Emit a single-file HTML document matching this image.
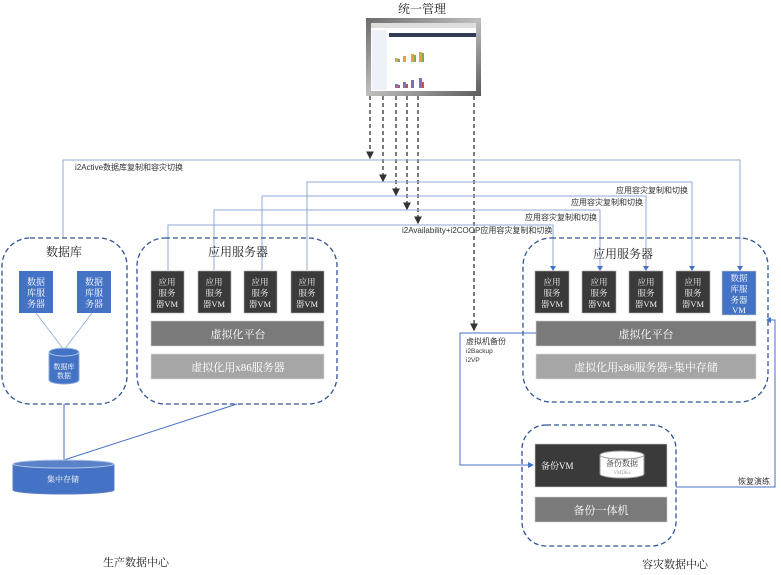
<!DOCTYPE html>
<html><head><meta charset="utf-8"><style>
html,body{margin:0;padding:0;background:#fff;}
svg{display:block;font-family:"Liberation Serif","Noto Serif CJK SC","Noto Sans CJK SC",serif;}
.s{font-family:"Liberation Sans","Noto Sans CJK SC",sans-serif;}
</style></head><body>
<svg width="781" height="575" viewBox="0 0 781 575" xmlns="http://www.w3.org/2000/svg">
<defs>
<marker id="a" markerWidth="6" markerHeight="6" refX="5" refY="3" orient="auto"><path d="M0,0 L6,3 L0,6 z" fill="#333"/></marker>
<marker id="b" markerWidth="6" markerHeight="6" refX="5" refY="3" orient="auto"><path d="M0,0 L6,3 L0,6 z" fill="#4472c4"/></marker>
<linearGradient id="fr" x1="0" y1="0" x2="1" y2="1"><stop offset="0" stop-color="#6b6b6b"/><stop offset="0.5" stop-color="#bdbdbd"/><stop offset="1" stop-color="#5a5a5a"/></linearGradient>
</defs>
<!-- title -->
<text x="422" y="13" font-size="12" text-anchor="middle" fill="#222">统一管理</text>
<!-- monitor -->
<rect x="366" y="18" width="115" height="78" fill="url(#fr)"/>
<rect x="371" y="23" width="105" height="68" fill="#fff"/>
<rect x="371" y="23" width="105" height="5" fill="#ddd"/>
<rect x="389" y="33" width="87" height="4" fill="#333c55"/>
<rect x="372" y="30" width="15" height="60" fill="#eef2f8"/>
<g fill="#e8a040"><rect x="395" y="58" width="3" height="4"/><rect x="403" y="56" width="3" height="6"/><rect x="411" y="54" width="3" height="8"/><rect x="419" y="52" width="3" height="10"/></g>
<g fill="#7c72b8"><rect x="395" y="84" width="3" height="4"/><rect x="403" y="82" width="3" height="6"/><rect x="411" y="80" width="3" height="8"/><rect x="419" y="78" width="3" height="10"/></g>
<g fill="#70b050"><rect x="398" y="59" width="2" height="3"/><rect x="414" y="55" width="2" height="7"/><rect x="422" y="53" width="2" height="9"/></g>
<g fill="#d05050"><rect x="398" y="85" width="2" height="3"/><rect x="406" y="84" width="2" height="4"/><rect x="422" y="82" width="2" height="6"/></g>
<!-- dashed control lines -->
<g stroke="#333" stroke-width="1.3" stroke-dasharray="4,3" fill="none">
<line x1="370" y1="96" x2="370" y2="158" marker-end="url(#a)"/>
<line x1="383" y1="96" x2="383" y2="181" marker-end="url(#a)"/>
<line x1="396" y1="96" x2="396" y2="195" marker-end="url(#a)"/>
<line x1="407" y1="96" x2="407" y2="209" marker-end="url(#a)"/>
<line x1="418" y1="96" x2="418" y2="223" marker-end="url(#a)"/>
<line x1="474" y1="96" x2="474" y2="330" marker-end="url(#a)"/>
</g>
<!-- replication lines -->
<g stroke="#8fa8d6" stroke-width="1" fill="none">
<polyline points="63,238 63,160 740,160 740,269"/>
<polyline points="307,270 307,182 692,182 692,269"/>
<polyline points="262,270 262,196 646,196 646,269"/>
<polyline points="214,270 214,210 600,210 600,269"/>
<polyline points="168,270 168,225 553,225 553,269"/>
</g>
<g fill="#4472c4"><path d="M737,266 L743,266 L740,271z"/><path d="M689,266 L695,266 L692,271z"/><path d="M643,266 L649,266 L646,271z"/><path d="M597,266 L603,266 L600,271z"/><path d="M550,266 L556,266 L553,271z"/></g>
<g font-size="8" fill="#333" class="s">
<text x="75" y="170">i2Active数据库复制和容灾切换</text>
<text x="688" y="193" text-anchor="end">应用容灾复制和切换</text>
<text x="643" y="205" text-anchor="end">应用容灾复制和切换</text>
<text x="597" y="220" text-anchor="end">应用容灾复制和切换</text>
<text x="402" y="233">i2Availability+i2COOP应用容灾复制和切换</text>
</g>
<!-- dashed boxes -->
<g stroke="#2f5597" stroke-width="1.3" stroke-dasharray="5,3" fill="none">
<rect x="2" y="238" width="125" height="166" rx="28"/>
<rect x="137" y="238" width="200" height="166" rx="28"/>
<rect x="523" y="238" width="245" height="164" rx="28"/>
<rect x="522" y="425" width="154" height="121" rx="24"/>
</g>
<g font-size="12" fill="#222">
<text x="64" y="256" text-anchor="middle">数据库</text>
<text x="238" y="256" text-anchor="middle">应用服务器</text>
<text x="623" y="258" text-anchor="middle">应用服务器</text>
</g>
<!-- DB servers -->
<g stroke="#8fa8d6" stroke-width="0.8"><line x1="36" y1="313" x2="64" y2="350"/><line x1="92" y1="313" x2="64" y2="350"/></g>
<rect x="19" y="271" width="34" height="42" fill="#4472c4"/>
<rect x="77" y="271" width="34" height="42" fill="#4472c4"/>
<g font-size="9" fill="#fff" text-anchor="middle">
<text x="36" y="285">数据</text><text x="36" y="296">库服</text><text x="36" y="307">务器</text>
<text x="94" y="285">数据</text><text x="94" y="296">库服</text><text x="94" y="307">务器</text>
</g>
<path d="M49,352 L49,380 A15,4 0 0 0 79,380 L79,352" fill="#4472c4" stroke="#8fa8d6"/>
<ellipse cx="64" cy="352" rx="15" ry="4" fill="#4472c4" stroke="#b4c7e7"/>
<text x="64" y="369" font-size="7" fill="#fff" text-anchor="middle">数据库</text>
<text x="64" y="378" font-size="7" fill="#fff" text-anchor="middle">数据</text>
<!-- left app VMs -->
<g fill="#3a3a3a" stroke="#aaa" stroke-width="0.6">
<rect x="151" y="271" width="33" height="42"/><rect x="198" y="271" width="33" height="42"/>
<rect x="244" y="271" width="33" height="42"/><rect x="291" y="271" width="33" height="42"/>
</g>
<g font-size="8.5" fill="#eee" text-anchor="middle">
<text x="167" y="285">应用</text><text x="167" y="296">服务</text><text x="167" y="307">器VM</text>
<text x="214" y="285">应用</text><text x="214" y="296">服务</text><text x="214" y="307">器VM</text>
<text x="260" y="285">应用</text><text x="260" y="296">服务</text><text x="260" y="307">器VM</text>
<text x="307" y="285">应用</text><text x="307" y="296">服务</text><text x="307" y="307">器VM</text>
</g>
<rect x="151" y="321" width="173" height="25" fill="#7a7a7a" stroke="#ccc" stroke-width="0.6"/>
<text x="238" y="338" font-size="11" fill="#fff" text-anchor="middle">虚拟化平台</text>
<rect x="151" y="354" width="173" height="25" fill="#a6a6a6" stroke="#ddd" stroke-width="0.6"/>
<text x="238" y="371" font-size="11" fill="#fff" text-anchor="middle">虚拟化用x86服务器</text>
<!-- right VMs -->
<g fill="#3a3a3a" stroke="#aaa" stroke-width="0.6">
<rect x="535" y="271" width="34" height="42"/><rect x="582" y="271" width="34" height="42"/>
<rect x="629" y="271" width="34" height="42"/><rect x="676" y="271" width="34" height="42"/>
</g>
<rect x="722" y="271" width="34" height="44" fill="#4472c4" stroke="#ccc" stroke-width="0.6"/>
<g font-size="8.5" fill="#eee" text-anchor="middle">
<text x="552" y="285">应用</text><text x="552" y="296">服务</text><text x="552" y="307">器VM</text>
<text x="599" y="285">应用</text><text x="599" y="296">服务</text><text x="599" y="307">器VM</text>
<text x="646" y="285">应用</text><text x="646" y="296">服务</text><text x="646" y="307">器VM</text>
<text x="693" y="285">应用</text><text x="693" y="296">服务</text><text x="693" y="307">器VM</text>
<text x="739" y="281" fill="#fff">数据</text><text x="739" y="292" fill="#fff">库服</text><text x="739" y="303" fill="#fff">务器</text><text x="739" y="313" fill="#fff">VM</text>
</g>
<rect x="536" y="321" width="220" height="25" fill="#7a7a7a" stroke="#ccc" stroke-width="0.6"/>
<text x="646" y="338" font-size="11" fill="#fff" text-anchor="middle">虚拟化平台</text>
<rect x="536" y="354" width="220" height="25" fill="#a6a6a6" stroke="#ddd" stroke-width="0.6"/>
<text x="646" y="371" font-size="11" fill="#fff" text-anchor="middle">虚拟化用x86服务器+集中存储</text>
<!-- backup lines -->
<g stroke="#4472c4" stroke-width="1" fill="none">
<polyline points="536,333 460,333 460,465 529,465"/>
<polyline points="676,487 775,487 775,320 770,320"/>
</g>
<path d="M528,462 L534,465 L528,468z" fill="#4472c4"/>
<path d="M771,317 L766,320 L771,323z" fill="#4472c4"/>
<g class="s" fill="#333">
<text x="466" y="344" font-size="8">虚拟机备份</text>
<text x="466" y="353" font-size="6.5">i2Backup</text>
<text x="466" y="362" font-size="6.5">i2VP</text>
<text x="738" y="484" font-size="8">恢复演练</text>
</g>
<!-- backup box -->
<rect x="535" y="444" width="132" height="43" fill="#3a3a3a" stroke="#ccc" stroke-width="0.6"/>
<text x="541" y="469" font-size="9" fill="#fff">备份VM</text>
<path d="M600,455 L600,474 A22,4 0 0 0 644,474 L644,455" fill="#fff" stroke="#999"/>
<ellipse cx="622" cy="455" rx="22" ry="4" fill="#fff" stroke="#999"/>
<text x="622" y="466" font-size="8" fill="#333" text-anchor="middle">备份数据</text>
<text x="622" y="474" font-size="5" fill="#999" text-anchor="middle">VMDKs</text>
<rect x="535" y="497" width="132" height="25" fill="#7a7a7a" stroke="#ccc" stroke-width="0.6"/>
<text x="601" y="514" font-size="11" fill="#fff" text-anchor="middle">备份一体机</text>
<!-- central storage -->
<g stroke="#4472c4" stroke-width="1"><line x1="64" y1="404" x2="64" y2="460"/><line x1="237" y1="404" x2="64" y2="460"/></g>
<path d="M13,464 L13,490 A50,4 0 0 0 114,490 L114,464" fill="#4472c4" stroke="#5b7cc0"/>
<ellipse cx="63.5" cy="464" rx="50.5" ry="4" fill="#5b82c9" stroke="#b4c7e7"/>
<text x="63" y="482" font-size="8" fill="#fff" text-anchor="middle">集中存储</text>
<text x="136" y="566" font-size="11" fill="#222" text-anchor="middle">生产数据中心</text>
<text x="675" y="568" font-size="11" fill="#222" text-anchor="middle">容灾数据中心</text>
</svg>
</body></html>
